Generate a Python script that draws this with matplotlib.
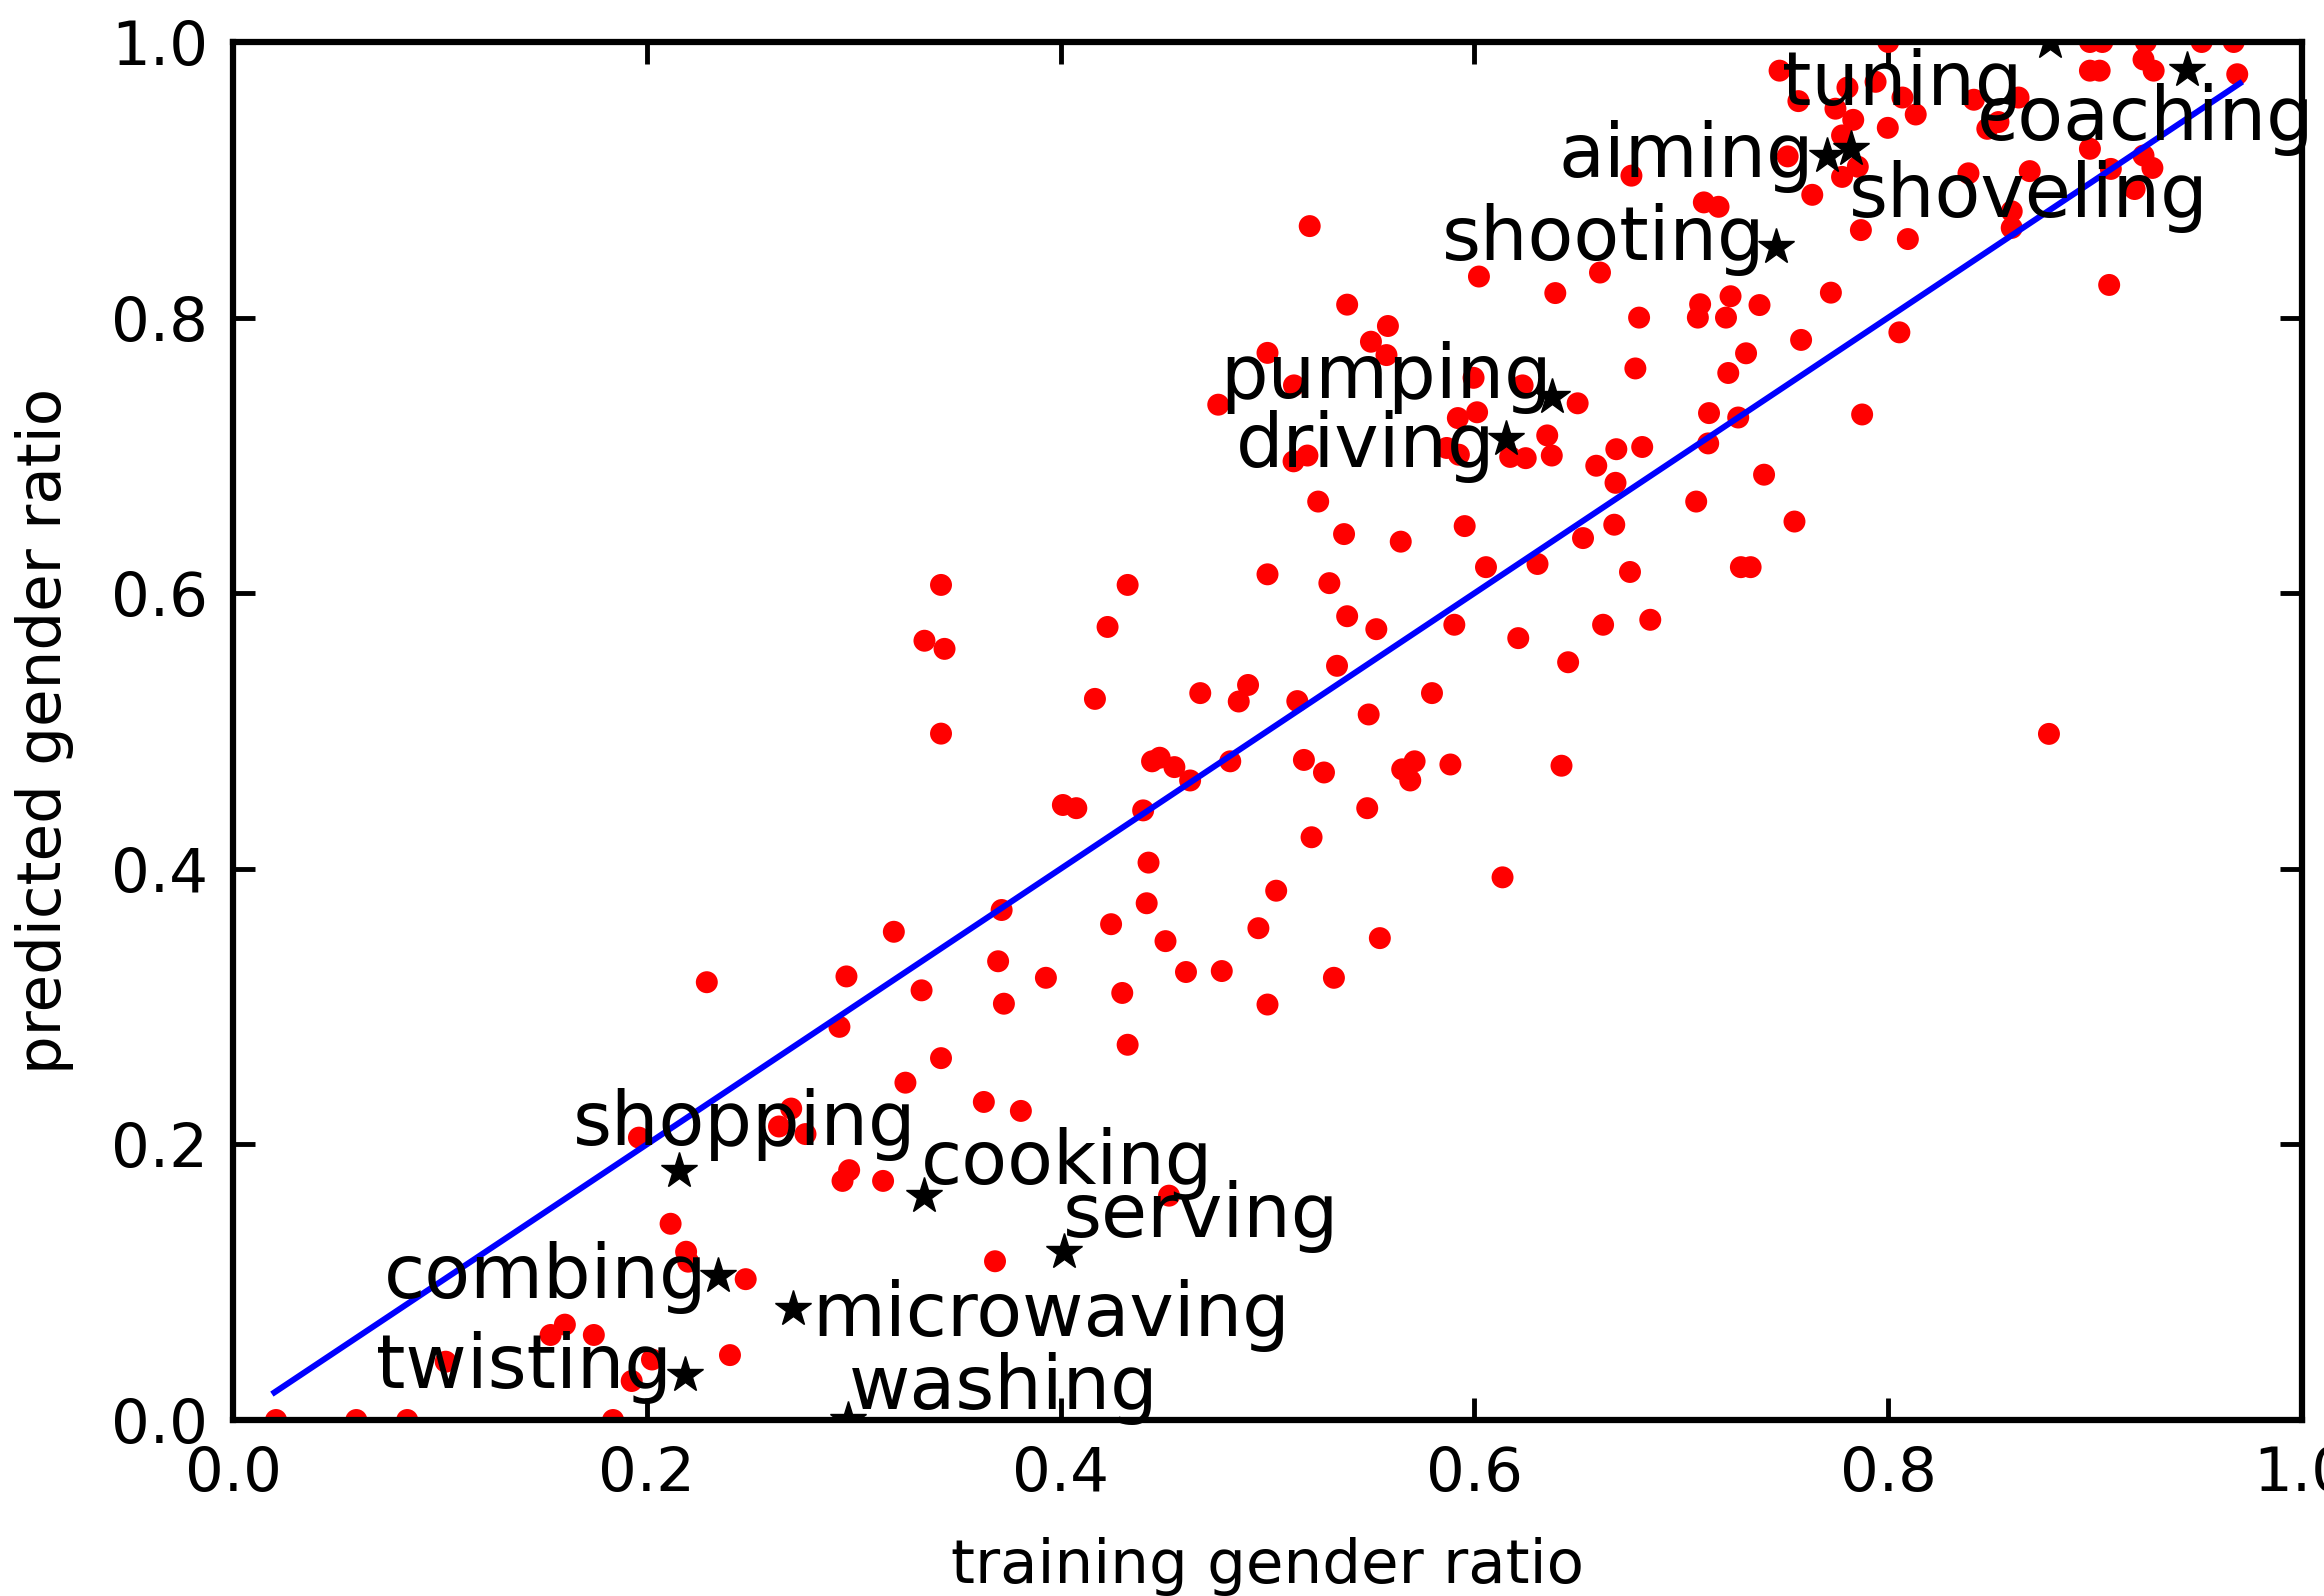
import matplotlib
matplotlib.use("Agg")
import matplotlib.pyplot as plt

plt.rcParams['font.family'] = ['DejaVu Sans']

# ---- red points: training gender ratio vs predicted gender ratio ----
train_ratio = [
    0.3194, 0.2290, 0.2965, 0.3328, 0.2931, 0.3250, 0.2698, 0.2639, 0.2767, 0.1962,
    0.2978, 0.2946, 0.3142, 0.2115, 0.2190, 0.2200, 0.2478, 0.1604, 0.1535, 0.1744,
    0.1028, 0.2025, 0.1927, 0.2402, 0.0208, 0.0596, 0.0842, 0.1837,
    0.3422, 0.4442, 0.4479, 0.4550, 0.4626, 0.4820, 0.5176, 0.5273, 0.5651, 0.5711,
    0.5690, 0.5884, 0.6421, 0.4011, 0.4076, 0.4399, 0.5482, 0.5213, 0.4425, 0.6136,
    0.5042, 0.3715, 0.4416, 0.4244, 0.4956, 0.4507, 0.5543, 0.3698, 0.3929, 0.4606,
    0.4779, 0.5321, 0.3726, 0.4298, 0.5000, 0.4324, 0.3422, 0.3629, 0.3808, 0.4524,
    0.3683,
    0.5204, 0.5385, 0.6022, 0.6391, 0.6607, 0.5582, 0.5500, 0.5575, 0.5000, 0.5128,
    0.5996, 0.6233, 0.4762, 0.6499, 0.5920, 0.6013, 0.6352, 0.5866, 0.5925, 0.6173,
    0.6248, 0.6374, 0.5193, 0.5126, 0.6589, 0.6686, 0.6682, 0.5245, 0.5370, 0.5644,
    0.5953, 0.6525, 0.6676, 0.6056, 0.6305, 0.5000, 0.5299, 0.3422, 0.4324, 0.4227,
    0.3342, 0.3439, 0.5385, 0.5526, 0.5903, 0.6212, 0.6622, 0.6453, 0.5336, 0.4166,
    0.4675, 0.4906, 0.4861, 0.5144, 0.5795, 0.5489,
    0.7475, 0.7566, 0.7745, 0.7803, 0.7939, 0.8069, 0.8133, 0.7831, 0.7998, 0.7777,
    0.7853, 0.7777, 0.7633, 0.7514, 0.8414, 0.8630, 0.8479, 0.8533, 0.8388, 0.8684,
    0.8597, 0.8597, 0.8975, 0.9076, 0.9234, 0.9277, 0.9191, 0.9068, 0.7868, 0.8095,
    0.6759, 0.7109, 0.7180, 0.7723, 0.7091, 0.7080, 0.7238, 0.7216, 0.7378, 0.6796,
    0.7579, 0.7313, 0.7227, 0.6778, 0.8054, 0.7134, 0.7275, 0.7874, 0.6811, 0.7130,
    0.7400, 0.7072, 0.7547, 0.6752, 0.7288, 0.7335, 0.6850, 0.8777,
    0.8000, 0.8975, 0.9035, 0.9245, 0.9515, 0.9670,
    0.8975, 0.9022, 0.9234, 0.9283, 0.9687,
]
pred_ratio = [
    0.3543, 0.3177, 0.3219, 0.3118, 0.2853, 0.2448, 0.2260, 0.2130, 0.2075, 0.2049,
    0.1813, 0.1735, 0.1735, 0.1424, 0.1221, 0.1149, 0.1022, 0.0692, 0.0617, 0.0617,
    0.0423, 0.0439, 0.0283, 0.0471, 0.0, 0.0, 0.0, 0.0,
    0.4981, 0.4780, 0.4806, 0.4738, 0.4641, 0.4780, 0.4790, 0.4699, 0.4722, 0.4780,
    0.4641, 0.4757, 0.4748, 0.4463, 0.4440, 0.4424, 0.4440, 0.4229, 0.4045, 0.3938,
    0.3841, 0.3701, 0.3750, 0.3598, 0.3569, 0.3475, 0.3497, 0.3329, 0.3209, 0.3251,
    0.3258, 0.3209, 0.3021, 0.3099, 0.3015, 0.2723, 0.2626, 0.2308, 0.2243, 0.1628,
    0.1152,
    0.8664, 0.8094, 0.8298, 0.8178, 0.8327, 0.7939, 0.7825, 0.7728, 0.7744, 0.7508,
    0.7563, 0.7508, 0.7368, 0.7378, 0.7271, 0.7313, 0.7145, 0.7054, 0.7005, 0.6989,
    0.6980, 0.6999, 0.6999, 0.6957, 0.6925, 0.7045, 0.6801, 0.6665, 0.6429, 0.6374,
    0.6487, 0.6400, 0.6497, 0.6189, 0.6212, 0.6137, 0.6073, 0.6060, 0.6060, 0.5755,
    0.5655, 0.5596, 0.5833, 0.5739, 0.5771, 0.5674, 0.5771, 0.5499, 0.5473, 0.5233,
    0.5275, 0.5334, 0.5214, 0.5217, 0.5275, 0.5120,
    0.9792, 0.9571, 0.9516, 0.9669, 0.9711, 0.9597, 0.9474, 0.9435, 0.9377, 0.9322,
    0.9095, 0.9021, 0.8891, 0.9170, 0.9581, 0.9597, 0.9370, 0.9419, 0.9047, 0.9063,
    0.8771, 0.8651, 0.9225, 0.9079, 0.9176, 0.9086, 0.8933, 0.8237, 0.8635, 0.8570,
    0.9030, 0.8836, 0.8804, 0.8181, 0.8097, 0.8000, 0.8155, 0.8000, 0.8091, 0.8000,
    0.7838, 0.7741, 0.7598, 0.7631, 0.7893, 0.7307, 0.7275, 0.7297, 0.7061, 0.7087,
    0.6860, 0.6665, 0.6520, 0.6154, 0.6189, 0.6189, 0.5807, 0.4979,
    1.0, 1.0, 1.0, 1.0, 1.0, 1.0,
    0.9792, 0.9792, 0.9873, 0.9792, 0.9766,
]

# ---- highlighted activities (black stars) ----
activities = ["shopping", "combing", "microwaving", "twisting", "washing",
              "cooking", "serving", "pumping", "driving", "shooting",
              "aiming", "shoveling", "tuning", "coaching"]
act_train = [0.2158, 0.2342, 0.2708, 0.2186, 0.2974,
             0.3342, 0.4015, 0.6374, 0.6153, 0.7458,
             0.7702, 0.7821, 0.8781, 0.9443]
act_pred = [0.1806, 0.1048, 0.0802, 0.0326, 0.0,
            0.1622, 0.1217, 0.7427, 0.7119, 0.8512,
            0.9170, 0.9225, 1.0, 0.9798]

# label anchor (left, baseline) in data coordinates
label_x = [0.1645, 0.0730, 0.2800, 0.0690, 0.2975,
           0.3325, 0.4010, 0.4770, 0.4845, 0.5845,
           0.6405, 0.7808, 0.7488, 0.8428]
label_y = [0.1996, 0.0886, 0.0611, 0.0229, 0.0083,
           0.1709, 0.1330, 0.7420, 0.6915, 0.8418,
           0.9020, 0.8730, 0.9543, 0.9289]

# reference line
line_x = [0.02, 0.97]
line_y = [0.02, 0.97]

W, H, DPI = 2324, 1596, 100
fig = plt.figure(figsize=(W / DPI, H / DPI), dpi=DPI)
ax = fig.add_axes([233 / W, 1 - 1420 / H, 2069 / W, 1378 / H])

ax.scatter(train_ratio, pred_ratio, s=250, color='#ff0000', edgecolors='none', zorder=2)
ax.plot(line_x, line_y, color='#0000ff', linewidth=4.3, zorder=3)
ax.plot(act_train, act_pred, linestyle='none', marker='*', markersize=27,
        color='black', markeredgecolor='black', zorder=4)
for name, lx, ly in zip(activities, label_x, label_y):
    ax.text(lx, ly, name, fontsize=54, ha='left', va='baseline', color='black', zorder=5)

ax.set_xlim(0, 1)
ax.set_ylim(0, 1)
ax.set_xticks([0.0, 0.2, 0.4, 0.6, 0.8, 1.0])
ax.set_yticks([0.0, 0.2, 0.4, 0.6, 0.8, 1.0])
ax.tick_params(direction='in', length=16, width=3.5, pad=18, top=True, right=True,
               labelsize=44)
for sp in ax.spines.values():
    sp.set_linewidth(4.5)

ax.set_xlabel("training gender ratio", fontsize=44)
ax.set_ylabel("predicted gender ratio", fontsize=44)
ax.xaxis.set_label_coords(0.5, -0.0849)
ax.yaxis.set_label_coords(-0.0768, 0.5)

fig.savefig("out.png", dpi=DPI)
